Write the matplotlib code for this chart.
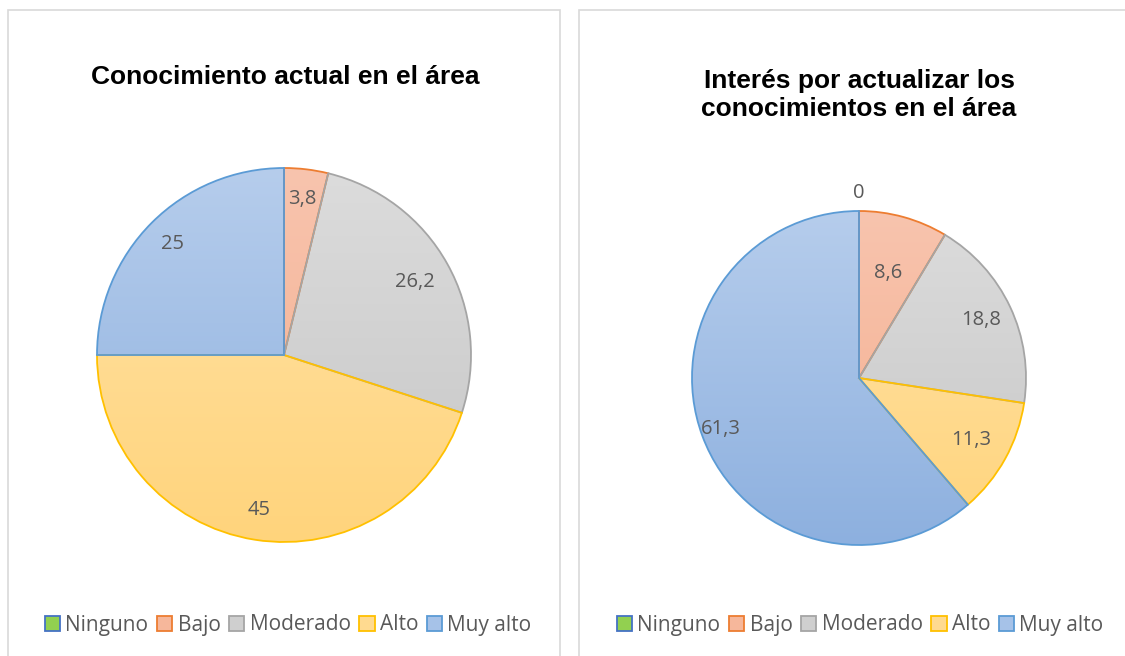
import numpy as np
import matplotlib
matplotlib.use("Agg")
import matplotlib.pyplot as plt
from matplotlib.patches import Rectangle, Patch
from matplotlib.colors import LinearSegmentedColormap

categories = ["Ninguno", "Bajo", "Moderado", "Alto", "Muy alto"]
values_left = [0, 3.8, 26.2, 45, 25]
values_right = [0, 8.6, 18.8, 11.3, 61.3]
labels_left = ["", "3,8", "26,2", "45", "25"]
labels_right = ["0", "8,6", "18,8", "11,3", "61,3"]
title_left = "Conocimiento actual en el área"
title_right = "Interés por actualizar los\nconocimientos en el área"

edge_colors = ["#4472C4", "#ED7D31", "#A5A5A5", "#FFC000", "#5B9BD5"]
top_colors = ["#9ED85E", "#F8C4AE", "#DCDCDC", "#FFE3A8", "#B6CDEC"]
bot_colors = ["#8CC84B", "#F4AE8E", "#C6C6C6", "#FFD47C", "#8DB0DF"]
legend_fill = ["#92D050", "#F6B79B", "#CFCFCF", "#FFDA90", "#A6C2E8"]

W, H = 1125, 656
fig = plt.figure(figsize=(W / 100, H / 100), dpi=100)
fig.patch.set_facecolor("white")

# panel borders
for x0, x1 in [(8, 560), (579, 1135)]:
    fig.add_artist(Rectangle((x0 / W, -0.05), (x1 - x0) / W, (H - 10) / H + 0.05,
                             transform=fig.transFigure, fill=False,
                             edgecolor="#D9D9D9", lw=1.2))

TXT = "#595959"
FONT = ["Open Sans", "DejaVu Sans"]


def draw_pie(cx, cy, R, vals, labels, lab_r):
    k = 1.35
    ax = fig.add_axes([(cx - k * R) / W, 1 - (cy + k * R) / H, 2 * k * R / W, 2 * k * R / H])
    ax.set_xlim(-k, k)
    ax.set_ylim(-k, k)
    ax.set_aspect("equal")
    ax.axis("off")
    wedges, _ = ax.pie(vals, startangle=90, counterclock=False, radius=1,
                       wedgeprops=dict(linewidth=1.3, facecolor="none"))
    for i, w in enumerate(wedges):
        w.set_edgecolor(edge_colors[i])
        w.set_zorder(3)
        cmap = LinearSegmentedColormap.from_list("g", [bot_colors[i], top_colors[i]])
        grad = np.linspace(0, 1, 256).reshape(-1, 1)
        im = ax.imshow(grad, cmap=cmap, origin="lower", extent=[-1, 1, -1, 1],
                       aspect="auto", zorder=2, interpolation="bicubic")
        im.set_clip_path(w)
    total = sum(vals)
    start = 90.0
    for i, v in enumerate(vals):
        ang = start - v / total * 360.0 / 2
        start -= v / total * 360.0
        if labels[i] == "":
            continue
        r = lab_r[i]
        ax.text(r * np.cos(np.radians(ang)), r * np.sin(np.radians(ang)), labels[i],
                ha="center", va="center", fontsize=14.5, color=TXT, family=FONT, zorder=5)
    ax.set_xlim(-k, k)
    ax.set_ylim(-k, k)
    return ax


draw_pie(284, 355, 187, values_left, labels_left, [0.84, 0.84, 0.80, 0.84, 0.84])
draw_pie(859, 378, 167, values_right, labels_right, [1.11, 0.65, 0.81, 0.77, 0.88])

fig.text(285 / W, 1 - 77 / H, title_left, ha="center", va="center", fontsize=19,
         fontweight="bold", family=["Liberation Sans", "DejaVu Sans"], color="black")
fig.text(859 / W, 1 - 95 / H, title_right, ha="center", va="center", fontsize=19,
         fontweight="bold", family=["Liberation Sans", "DejaVu Sans"], color="black",
         linespacing=1.2)

handles = [Patch(facecolor=legend_fill[i], edgecolor=edge_colors[i], lw=1.3, label=c)
           for i, c in enumerate(categories)]
for cx in (288, 860):
    leg = fig.legend(handles=handles, loc="center", bbox_to_anchor=(cx / W, 1 - 625 / H),
                     ncol=5, frameon=False, handlelength=0.75, handleheight=0.75,
                     handletextpad=0.25, columnspacing=0.4,
                     prop=dict(family=FONT, size=15))
    for t in leg.get_texts():
        t.set_color(TXT)

fig.savefig("out.png", dpi=100)
